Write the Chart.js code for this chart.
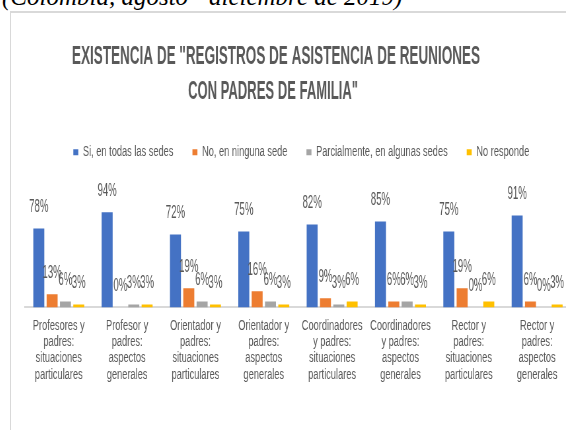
<!DOCTYPE html>
<html>
<head>
<meta charset="utf-8">
<script src="https://cdn.jsdelivr.net/npm/chart.js@4.4.1/dist/chart.umd.min.js"></script>
<style>
  html, body { margin: 0; padding: 0; background: #fff; width: 566px; height: 430px; overflow: hidden; }
  #caption { position: absolute; left: 2px; top: -16px; font: italic 25px/25px 'Liberation Serif', 'Times New Roman', serif; color: #000; white-space: nowrap; }
  #frame { position: absolute; left: 10px; top: 11px; width: 620px; height: 440px; border-left: 1px solid #d9d9d9; border-top: 2px solid #d9d9d9; overflow: hidden; }
  #wrap { position: absolute; left: 0; top: 0; transform-origin: 0 0; }
</style>
</head>
<body>
<div id="caption">(Colombia, agosto - diciembre de 2019)</div>
<div id="frame"><div id="wrap"><canvas id="myChart"></canvas></div></div>
<script>
const categories = [
  ['Profesores y', 'padres:', 'situaciones', 'particulares'],
  ['Profesor y', 'padres:', 'aspectos', 'generales'],
  ['Orientador y', 'padres:', 'situaciones', 'particulares'],
  ['Orientador y', 'padres:', 'aspectos', 'generales'],
  ['Coordinadores', 'y padres:', 'situaciones', 'particulares'],
  ['Coordinadores', 'y padres:', 'aspectos', 'generales'],
  ['Rector y', 'padres:', 'situaciones', 'particulares'],
  ['Rector y', 'padres:', 'aspectos', 'generales']
];
const seriesNames = ['Si, en todas las sedes', 'No, en ninguna sede', 'Parcialmente, en algunas sedes', 'No responde'];
const siTodas = [78, 94, 72, 75, 82, 85, 75, 91];
const noNinguna = [13, 0, 19, 16, 9, 6, 19, 6];
const parcialmente = [6, 3, 6, 6, 3, 6, 0, 0];
const noResponde = [3, 3, 3, 3, 6, 3, 6, 3];
const titleLine1 = 'EXISTENCIA DE "REGISTROS DE ASISTENCIA DE REUNIONES';
const titleLine2 = 'CON PADRES DE FAMILIA"';

const FONT = "'Liberation Sans', Arial, sans-serif";
Chart.defaults.font.family = FONT;
Chart.defaults.color = '#595959';

// the original picture is squeezed sideways: draw wide, then squeeze the canvas
const probe = document.createElement('canvas').getContext('2d');
probe.font = '14px ' + FONT;
const s = 90.5 / probe.measureText(seriesNames[0]).width;

const W = Math.ceil(575 / s);
const H = 417;
const canvas = document.getElementById('myChart');
canvas.width = W;
canvas.height = H;
canvas.style.width = W + 'px';
canvas.style.height = H + 'px';
document.getElementById('wrap').style.transform = 'scaleX(' + s + ')';

const legendPad = 19 / s;

const dataLabels = {
  id: 'dataLabels',
  afterDatasetsDraw(chart) {
    const c = chart.ctx;
    chart.data.datasets.forEach((ds, i) => {
      chart.getDatasetMeta(i).data.forEach((bar, j) => {
        c.save();
        c.font = '18px ' + FONT;
        c.fillStyle = '#595959';
        c.textAlign = 'center';
        c.textBaseline = 'middle';
        c.translate(bar.x, bar.y - 21.5);
        c.scale(0.81, 1);
        c.fillText(ds.data[j] + '%', 0, 0);
        c.restore();
      });
    });
  }
};

// title lines are narrower than the rest; maxWidth of each block squeezes them
const placeBlocks = {
  id: 'placeBlocks',
  afterLayout(chart) {
    const t = chart.titleBlock;
    const sub = chart.boxes.find(b => b !== t && b instanceof t.constructor);
    const c1 = 265 / s, c2 = 262 / s;
    t.left = c1 - 204 / s; t.right = c1 + 204 / s; t.width = t.right - t.left;
    sub.left = c2 - 85 / s; sub.right = c2 + 85 / s; sub.width = sub.right - sub.left;
    chart.legend.left = 62.3 / s - legendPad;
  }
};

new Chart(canvas, {
  type: 'bar',
  data: {
    labels: categories,
    datasets: [
      { label: seriesNames[0], data: siTodas, backgroundColor: '#4472C4' },
      { label: seriesNames[1], data: noNinguna, backgroundColor: '#ED7D31' },
      { label: seriesNames[2], data: parcialmente, backgroundColor: '#A5A5A5' },
      { label: seriesNames[3], data: noResponde, backgroundColor: '#FFC000' }
    ]
  },
  options: {
    responsive: false,
    animation: false,
    datasets: { bar: { categoryPercentage: 0.78, barPercentage: 0.825, borderWidth: 0 } },
    layout: { padding: { left: 13.6 / s, right: W - 560.3 / s, top: 0, bottom: 36.5 } },
    plugins: {
      title: {
        display: true,
        text: titleLine1,
        color: '#595959',
        font: { size: 25, weight: 'bold', lineHeight: 1.15 },
        padding: { top: 30.2, bottom: 0 }
      },
      subtitle: {
        display: true,
        text: titleLine2,
        color: '#595959',
        font: { size: 25, weight: 'bold', lineHeight: 1.15 },
        padding: { top: 6.2, bottom: 9.7 }
      },
      legend: {
        align: 'start',
        labels: { boxWidth: 5 / s, boxHeight: 6, padding: legendPad, color: '#595959', font: { size: 14 } }
      },
      tooltip: { enabled: false }
    },
    scales: {
      x: {
        grid: { display: false, drawTicks: false },
        border: { color: '#d9d9d9', width: 2 },
        ticks: { color: '#595959', font: { size: 14, lineHeight: 1.165 }, padding: 10.4, maxRotation: 0, autoSkip: false }
      },
      y: { display: false, min: 0, max: 136.5 }
    }
  },
  plugins: [dataLabels, placeBlocks]
});
</script>
</body>
</html>
